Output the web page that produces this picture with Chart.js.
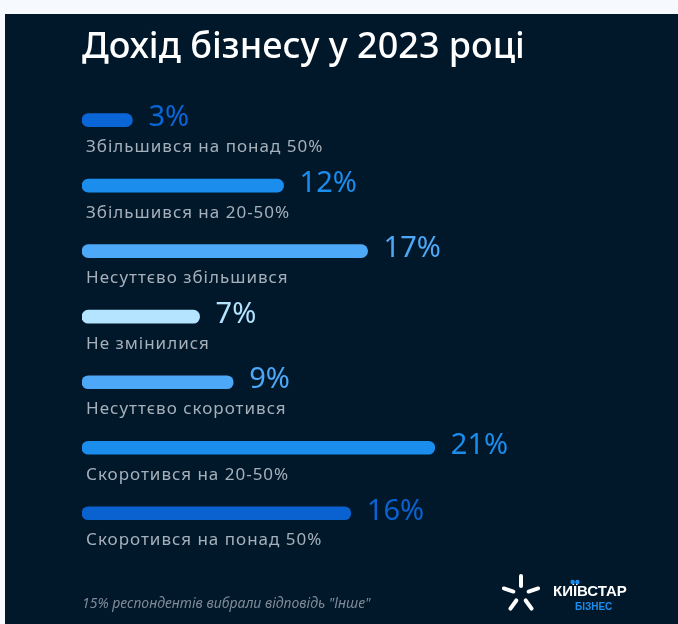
<!DOCTYPE html>
<html lang="uk">
<head>
<meta charset="utf-8">
<script src="https://cdn.jsdelivr.net/npm/chart.js@4.4.1/dist/chart.umd.min.js"></script>
<style>
  html, body { margin: 0; padding: 0; background: #f6f9fe; }
  body { width: 678px; height: 624px; overflow: hidden; position: relative; }
  #panel { position: absolute; left: 5px; top: 14px; width: 673px; height: 610px; background: #01182b; }
  canvas { display: block; }
</style>
</head>
<body>
<div id="panel"><canvas id="chart" width="673" height="610"></canvas></div>
<script>
// Survey answers: how business revenue changed in 2023
const categories = [
  'Збільшився на понад 50%',
  'Збільшився на 20-50%',
  'Несуттєво збільшився',
  'Не змінилися',
  'Несуттєво скоротився',
  'Скоротився на 20-50%',
  'Скоротився на понад 50%'
];
const shares = [3, 12, 17, 7, 9, 21, 16];
const barColors = ['#0a66d6', '#1b8ded', '#4ea8f8', '#b4e4ff', '#4ea8f8', '#1b8ded', '#0a62d0'];
const titleText = 'Дохід бізнесу у 2023 році';
const noteText = '15% респондентів вибрали відповідь "Інше"';

const FONT = '"Noto Sans", "Open Sans", sans-serif';

// Percent value to the right of each bar, answer text underneath it
const barLabels = {
  id: 'barLabels',
  afterDatasetsDraw(chart) {
    const { ctx, chartArea } = chart;
    const meta = chart.getDatasetMeta(0);
    ctx.save();
    ctx.textAlign = 'left';
    ctx.textBaseline = 'middle';
    meta.data.forEach((bar, i) => {
      ctx.letterSpacing = '0px';
      ctx.font = '400 29px ' + FONT;
      ctx.fillStyle = barColors[i];
      ctx.fillText(shares[i] + '%', bar.x + 16, bar.y - 2);
      ctx.letterSpacing = '1px';
      ctx.font = '400 17px ' + FONT;
      ctx.fillStyle = '#a6b0bb';
      ctx.fillText(categories[i], chartArea.left + 4, bar.y + 27);
    });
    ctx.restore();
  }
};

// Brand mark in the lower right corner
const brandMark = {
  id: 'brandMark',
  afterDraw(chart) {
    const ctx = chart.ctx;
    ctx.save();
    const cx = 516, cy = 580;
    ctx.strokeStyle = '#ffffff';
    ctx.lineWidth = 4;
    ctx.lineCap = 'round';
    for (let k = 0; k < 5; k++) {
      const a = (-90 + k * 72) * Math.PI / 180;
      ctx.beginPath();
      ctx.moveTo(cx + Math.cos(a) * 8, cy + Math.sin(a) * 8);
      ctx.lineTo(cx + Math.cos(a) * 18, cy + Math.sin(a) * 18);
      ctx.stroke();
    }
    const word = 'КИЇВСТАР';
    const tx = 548, ty = 578;
    ctx.font = 'bold 15px "Liberation Sans", Arial, sans-serif';
    ctx.textAlign = 'left';
    ctx.textBaseline = 'middle';
    ctx.fillStyle = '#ffffff';
    ctx.fillText(word, tx, ty);
    const pre = ctx.measureText('КИ').width;
    const iw = ctx.measureText('Ї').width;
    ctx.fillStyle = '#1b8def';
    const dx = tx + pre + iw / 2;
    [dx - 2.4, dx + 2.4].forEach(x => {
      ctx.beginPath();
      ctx.arc(x, ty - 10, 2.2, 0, Math.PI * 2);
      ctx.fill();
    });
    ctx.font = 'bold 10px "Liberation Sans", Arial, sans-serif';
    ctx.fillText('БІЗНЕС', 570, 593);
    ctx.restore();
  }
};

new Chart(document.getElementById('chart'), {
  type: 'bar',
  data: {
    labels: categories,
    datasets: [{
      data: shares,
      backgroundColor: barColors,
      barThickness: 13,
      borderRadius: 7,
      borderSkipped: false
    }]
  },
  options: {
    indexAxis: 'y',
    responsive: false,
    animation: false,
    events: [],
    layout: { padding: { left: 77, right: 92, top: 0, bottom: 0 } },
    scales: {
      x: { type: 'linear', min: 0, max: 30, display: false },
      y: { type: 'category', display: false }
    },
    plugins: {
      legend: { display: false },
      tooltip: { enabled: false },
      title: {
        display: true,
        text: titleText,
        align: 'start',
        color: '#ffffff',
        font: { family: FONT, size: 36, weight: '500', lineHeight: 1.2 },
        padding: { top: 12, bottom: 18.2 }
      },
      subtitle: {
        display: true,
        text: noteText,
        position: 'bottom',
        align: 'start',
        color: '#7e8a98',
        font: { family: FONT, size: 14, style: 'italic', lineHeight: 1.2 },
        padding: { top: 49.2, bottom: 12 }
      }
    }
  },
  plugins: [barLabels, brandMark]
});
</script>
</body>
</html>
